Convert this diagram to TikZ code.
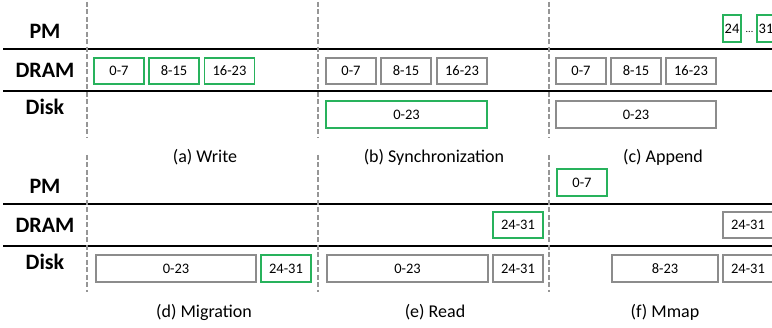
\documentclass[tikz,border=0pt]{standalone}
\usepackage{fontspec}
\setmainfont{Carlito}
\definecolor{okgreen}{RGB}{40,178,92}
\definecolor{boxgray}{RGB}{140,140,140}
\definecolor{dashgray}{RGB}{150,150,150}
\tikzset{
  blk/.style={draw=boxgray, line width=1.8pt, minimum height=26pt, inner sep=0pt, font=\fontsize{14.5}{16}\selectfont},
  newblk/.style={blk, draw=okgreen},
  tier/.style={anchor=base, font=\fontsize{22}{24}\selectfont\bfseries},
  captext/.style={anchor=base, font=\fontsize{18}{20}\selectfont},
  sepline/.style={line width=2pt, black},
  divline/.style={dashgray, line width=1.5pt, dash pattern=on 5pt off 2.5pt},
}
\begin{document}
\begin{tikzpicture}[x=1pt, y=-1pt]
\useasboundingbox (0,0) rectangle (772,328);
\clip (0,0) rectangle (772,328);
% separators
\coordinate (t1l) at (3,49);  \coordinate (t1r) at (772,49);
\coordinate (t2l) at (3,91);  \coordinate (t2r) at (772,91);
\coordinate (b1l) at (3,204); \coordinate (b1r) at (772,204);
\coordinate (b2l) at (3,246); \coordinate (b2r) at (772,246);
\draw[sepline] (t1l) -- (t1r);
\draw[sepline] (t2l) -- (t2r);
\draw[sepline] (b1l) -- (b1r);
\draw[sepline] (b2l) -- (b2r);
% dashed column dividers
\foreach \x/\n in {87/a,318/b,549/c}{
  \coordinate (v\n1) at (\x,2);   \coordinate (v\n2) at (\x,138);
  \coordinate (v\n3) at (\x,155); \coordinate (v\n4) at (\x,292);
  \draw[divline] (v\n1) -- (v\n2);
  \draw[divline] (v\n3) -- (v\n4);
}
% tier labels
\node[tier] (pm1) at (45,39) {PM};
\node[tier] (dram1) at (45,78) {DRAM};
\node[tier] (disk1) at (45,115) {Disk};
\node[tier] (pm2) at (45,194) {PM};
\node[tier] (dram2) at (45,233) {DRAM};
\node[tier] (disk2) at (45,270) {Disk};
% (a) Write
\node[newblk, minimum width=50pt] (a1) at (119,71) {0-7};
\node[newblk, minimum width=50pt] (a2) at (174,71) {8-15};
\node[newblk, minimum width=50pt] (a3) at (229.5,71) {16-23};
\node[captext] (capa) at (205,163) {(a) Write};
% (b) Synchronization
\node[blk, minimum width=50pt] (b1) at (351,71) {0-7};
\node[blk, minimum width=50pt] (b2) at (406,71) {8-15};
\node[blk, minimum width=50pt] (b3) at (462,71) {16-23};
\node[newblk, minimum width=161pt, minimum height=27pt] (bd) at (406.5,114.5) {0-23};
\node[captext] (capb) at (434,163) {(b) Synchronization};
% (c) Append
\node[blk, minimum width=50pt] (c1) at (581,71) {0-7};
\node[blk, minimum width=50pt] (c2) at (636,71) {8-15};
\node[blk, minimum width=50pt] (c3) at (691,71) {16-23};
\node[blk, minimum width=160pt, minimum height=27pt] (cd) at (636,114.5) {0-23};
\node[newblk, minimum width=18pt, minimum height=27pt] (cp1) at (732,28.5) {24};
\node[font=\fontsize{10}{12}\selectfont, inner sep=0pt] (cdots) at (749.5,32) {...};
\node[newblk, minimum width=18pt, minimum height=27pt] (cp2) at (766,28.5) {31};
\node[captext] (capc) at (663,163) {(c) Append};
% (d) Migration
\node[blk, minimum width=160pt, minimum height=27pt] (dd1) at (176,268.5) {0-23};
\node[newblk, minimum width=50pt, minimum height=27pt] (dd2) at (286,268.5) {24-31};
\node[captext] (capd) at (204,318) {(d) Migration};
% (e) Read
\node[newblk, minimum width=50pt] (er) at (518,225) {24-31};
\node[blk, minimum width=161pt, minimum height=27pt] (ed1) at (407.5,268.5) {0-23};
\node[blk, minimum width=50pt, minimum height=27pt] (ed2) at (518,268.5) {24-31};
\node[captext] (cape) at (435,318) {(e) Read};
% (f) Mmap
\node[newblk, minimum width=50pt, minimum height=27pt] (fp) at (582,182.5) {0-7};
\node[blk, minimum width=50pt] (fr) at (748,225) {24-31};
\node[blk, minimum width=106pt, minimum height=27pt] (fd1) at (665,268.5) {8-23};
\node[blk, minimum width=50pt, minimum height=27pt] (fd2) at (748,268.5) {24-31};
\node[captext] (capf) at (665,318) {(f) Mmap};
\end{tikzpicture}
\end{document}
